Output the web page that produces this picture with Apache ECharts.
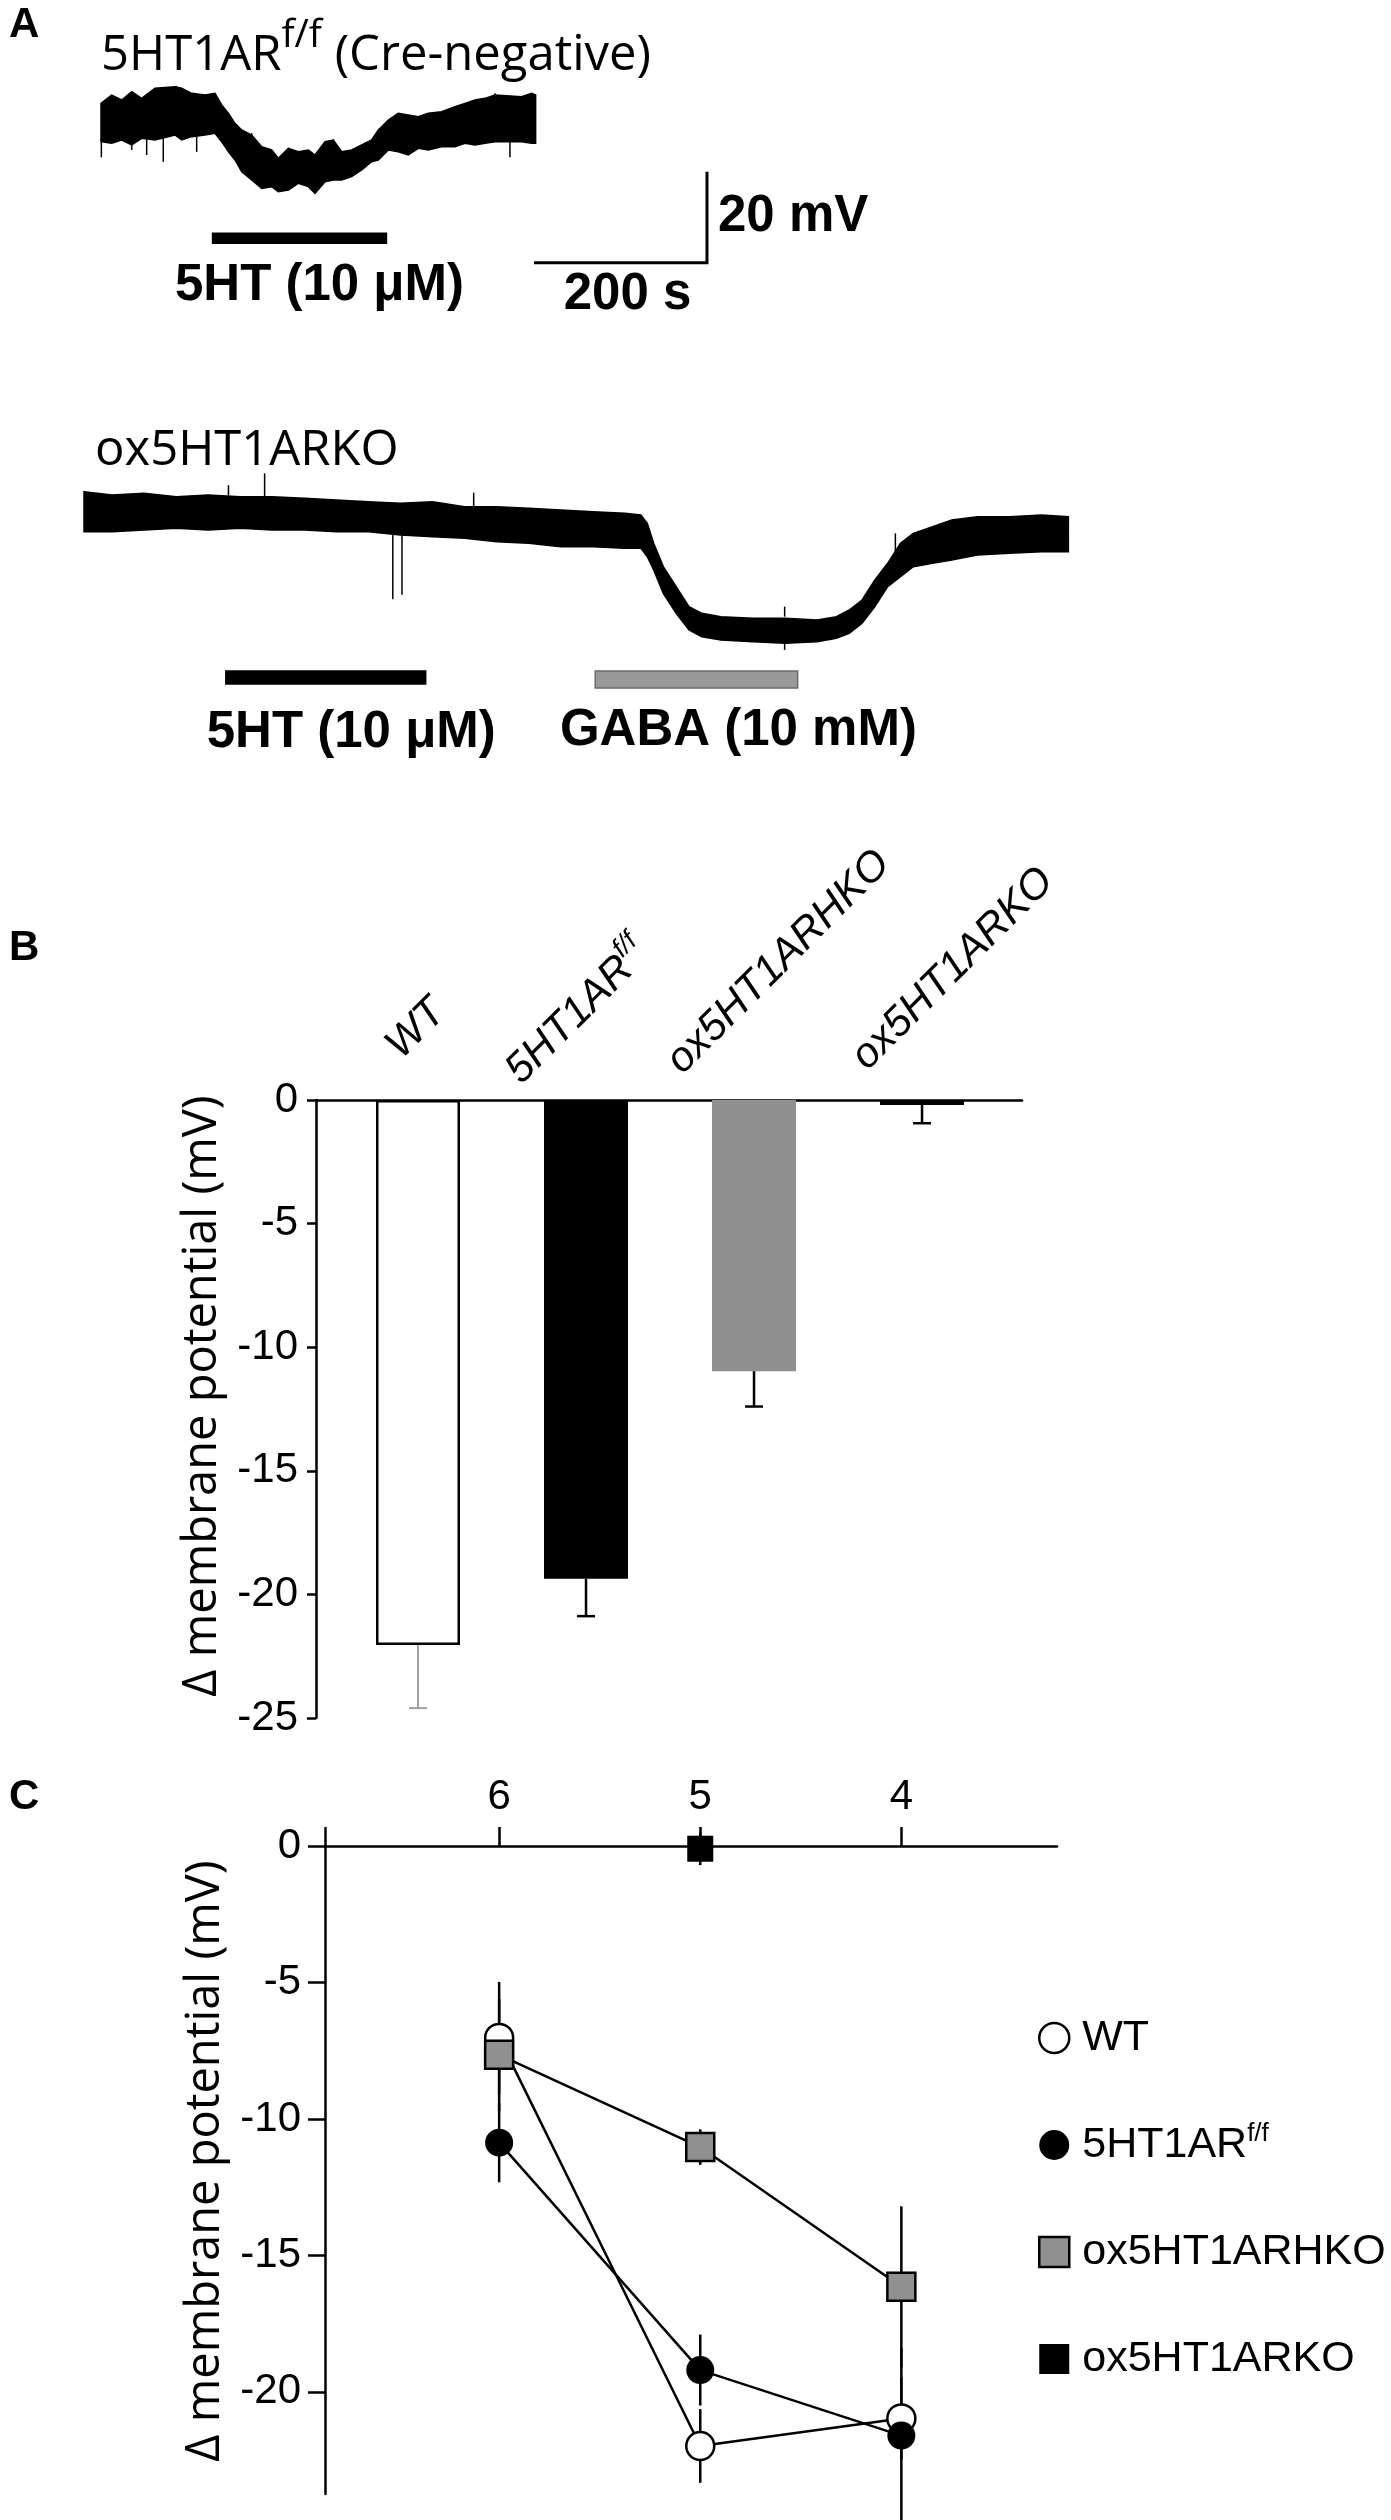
<!DOCTYPE html>
<html><head><meta charset="utf-8">
<script src="https://cdn.jsdelivr.net/npm/echarts@6/dist/echarts.min.js"></script>
<style>html,body{margin:0;padding:0;background:#fff}#c{width:1391px;height:2520px}</style>
</head><body><div id="c"></div>
<script>
// ---------- Panel A : recorded traces (upper / lower edge of the noisy band) ----------
// trace 1 : 5HT1AR f/f (Cre-negative); time in s, edges in mV (relative to start)
const trace1T  = [0, 12.3, 23.9, 35.5, 47.0, 62.4, 85.5, 93.2, 104.8, 120.2, 131.8, 139.5, 147.2, 154.9, 162.7, 174.2, 185.8, 197.3, 205.0, 216.6, 228.1, 239.7, 247.4, 259.0, 268.6, 278.2, 289.8, 301.4, 312.9, 320.6, 332.2, 343.7, 355.3, 366.8, 378.4, 393.8, 409.2, 420.8, 432.4, 443.9, 455.5, 486.3, 497.9, 502.5];
const trace1Hi = [3.66, 5.49, 4.40, 6.23, 4.76, 6.96, 7.33, 6.96, 5.86, 5.49, 5.86, 3.30, 1.47, -0.73, -2.20, -3.30, -5.86, -6.59, -8.42, -6.23, -6.96, -6.59, -7.69, -4.76, -4.40, -6.96, -6.59, -5.49, -4.40, -2.20, 0, 1.47, 1.10, 0.73, 1.47, 1.83, 2.93, 3.66, 4.40, 4.76, 5.49, 5.13, 5.86, 5.49];
const trace1Lo = [-4.76, -5.13, -4.40, -5.49, -4.03, -4.40, -3.30, -4.40, -3.66, -3.30, -2.93, -4.76, -6.96, -8.79, -11.36, -13.19, -15.02, -14.65, -15.75, -15.38, -13.92, -14.65, -16.12, -13.55, -13.19, -13.19, -12.45, -10.99, -9.16, -8.79, -6.59, -6.96, -7.69, -6.23, -6.59, -5.86, -5.86, -5.13, -5.49, -5.13, -4.76, -4.76, -5.13, -5.13];
// spikes: [time, from mV, to mV]
const trace1Spikes = [[0.4, -4, -8.2], [35.5, -4, -6.6], [52.8, -3, -7.7], [72, -3, -9.2], [110.6, -3, -7.0], [472.8, -4, -8.2], [87, 6, 7.5], [174.2, -5, -2.9], [268.6, -6, -4.25], [455.5, 5, 5.9]];
// trace 2 : ox5HT1ARKO
const trace2T  = [0, 32.5, 69.5, 106.6, 143.6, 180.7, 217.7, 254.8, 291.8, 328.9, 365.9, 403.0, 440.0, 477.1, 514.1, 551.2, 588.2, 625.3, 643.8, 651.2, 658.6, 669.7, 684.6, 699.4, 714.2, 736.4, 773.5, 810.5, 847.6, 869.8, 884.6, 899.5, 914.3, 929.1, 943.9, 958.7, 981.0, 1003.2, 1032.9, 1070.0, 1107.0, 1138];
const trace2Hi = [4.47, 3.74, 4.10, 3.37, 3.74, 3.37, 3.37, 3.00, 2.64, 2.27, 1.90, 2.27, 1.17, 1.17, 0.81, 0.44, 0.07, -0.29, -0.66, -2.49, -6.89, -12.01, -16.41, -20.81, -22.27, -23.0, -23.37, -23.37, -23.74, -23.0, -21.54, -19.34, -14.95, -11.28, -6.89, -4.69, -3.22, -1.76, -1.03, -1.03, -0.66, -1.03];
const trace2Lo = [-4.33, -4.33, -3.96, -3.59, -3.96, -3.59, -3.96, -3.96, -4.33, -4.33, -5.05, -5.42, -5.79, -6.52, -6.89, -7.62, -7.62, -7.99, -7.99, -9.82, -12.75, -17.88, -22.27, -25.93, -27.4, -28.13, -28.5, -28.86, -28.5, -27.77, -26.67, -24.47, -20.81, -16.41, -14.21, -12.01, -11.28, -10.55, -9.45, -9.08, -8.72, -8.72];
const trace2Spikes = [[208.8, 3, 8.5], [357, -5, -19.2], [367.6, -5, -18.2], [167, 3, 5.9], [450.5, 1, 4.25], [810, -28, -30.3], [810, -23, -20.8], [938, -10, -4.7]];
// drug applications (s)
const drug1Names = ['5HT (10 \u03bcM)'];
const drug1Start = [129];
const drug1End   = [330];
const drug2Names = ['5HT (10 \u03bcM)', 'GABA (10 mM)'];
const drug2Start = [164, 591];
const drug2End   = [395, 825];
// scale bar
const scaleTime = 200;   // s
const scaleVolt = 20;    // mV
const scaleTimeLabel = '200 s';
const scaleVoltLabel = '20 mV';

// ---------- Panel B : bar chart ----------
const catNames = ['WT', '5HT1AR', 'ox5HT1ARHKO', 'ox5HT1ARKO'];
const catSup   = ['', 'f/f', '', ''];
const meanB = [-22.05, -19.37, -10.97, -0.2];
const semB  = [2.55, 1.51, 1.43, 0.74];

// ---------- Panel C : concentration response (x = -log M) ----------
const concC = [6, 5, 4];
const wtC   = [-7.03, -21.98, -20.97];
const wtSem = [2.05, 1.35, 1.5];
const ffC   = [-10.87, -19.2, -21.6];
const ffSem = [1.45, 1.3, 3.2];
const hkoC  = [-7.65, -11.03, -16.15];
const hkoSem= [2.05, 0.65, 2.95];
const koConc= [5];
const koC   = [-0.1];
const koSem = [0.6];
const yTicksC = [0, -5, -10, -15, -20];
const seriesNamesC = ['WT', '5HT1AR', 'ox5HT1ARHKO', 'ox5HT1ARKO'];

// ---------- styles ----------
const FA = "'Liberation Sans', Arial, sans-serif";
const FO = "'Open Sans', sans-serif";
const LW = 2.5;
const axisLineSt = {show: true, lineStyle: {color: '#000', width: LW}};
const drugStyle1 = [{level: -26, h: 10, fill: '#000', stroke: '#000', dx: 20, dy: 47.5}];
const drugStyle2 = [{level: -36.4, h: 13, fill: '#000', stroke: '#000', dx: 25.5, dy: 55},
                    {level: -36.8, h: 17, fill: '#999', stroke: '#6a6a6a', dx: 42, dy: 51}];
const scaleAnchor = {t: 500.6, v: -31.4};
const catShift = [[-25, -48], [-73, -23], [-80, -33], [-63, -37]];

function traceSeries(gi, T, Hi, Lo, spikes) {
  return {
    type: 'custom', xAxisIndex: gi, yAxisIndex: gi, clip: false, silent: true,
    data: [[0, 0]],
    renderItem: function (params, api) {
      const pts = [];
      for (let i = 0; i < T.length; i++) pts.push(api.coord([T[i], Hi[i]]));
      for (let i = T.length - 1; i >= 0; i--) pts.push(api.coord([T[i], Lo[i]]));
      const ch = [{type: 'polygon', shape: {points: pts}, style: {fill: '#000', stroke: '#000', lineWidth: 1.5, lineJoin: 'miter'}}];
      spikes.forEach(function (s) {
        const a = api.coord([s[0], s[1]]), b = api.coord([s[0], s[2]]);
        ch.push({type: 'line', shape: {x1: a[0], y1: a[1], x2: b[0], y2: b[1]}, style: {stroke: '#000', lineWidth: 1.5}});
      });
      return {type: 'group', children: ch};
    }
  };
}
function drugSeries(gi, names, t0, t1, styles) {
  return {
    type: 'custom', xAxisIndex: gi, yAxisIndex: gi, clip: false, silent: true,
    data: t0.map(function (t, i) { return [t, t1[i]]; }),
    renderItem: function (params, api) {
      const i = params.dataIndex, s = styles[i];
      const a = api.coord([api.value(0), s.level]), b = api.coord([api.value(1), s.level]);
      return {type: 'group', children: [
        {type: 'rect', shape: {x: a[0], y: a[1] - s.h / 2, width: b[0] - a[0], height: s.h},
         style: {fill: s.fill, stroke: s.stroke, lineWidth: 1.5}},
        {type: 'text', x: (a[0] + b[0]) / 2 + s.dx, y: a[1] + s.dy,
         style: {text: names[i], fontFamily: FA, fontWeight: 'bold', fontSize: 51, fill: '#000', align: 'center', verticalAlign: 'middle'}}
      ]};
    }
  };
}

const errRowsC = [];
[[wtC, wtSem, concC], [ffC, ffSem, concC], [hkoC, hkoSem, concC], [koC, koSem, koConc]].forEach(function (g) {
  g[0].forEach(function (v, i) { errRowsC.push([g[2][i], v - g[1][i], v + g[1][i]]); });
});

const chart = echarts.init(document.getElementById('c'), null, {renderer: 'canvas', width: 1391, height: 2520});
const supRich = {sup: {fontSize: 26, fontFamily: FA, color: '#000', verticalAlign: 'top', lineHeight: 10}};

const option = {
  animation: false,
  backgroundColor: '#fff',
  grid: [
    {left: 101, top: 65.4, width: 607.2, height: 209.3},
    {left: 84, top: 457.4, width: 986.1, height: 245.7},
    {left: 316, top: 1100, width: 706, height: 618},
    {left: 325, top: 1828, width: 732, height: 666}
  ],
  xAxis: [
    {gridIndex: 0, type: 'value', min: 0, max: 702, show: false},
    {gridIndex: 1, type: 'value', min: 0, max: 1140, show: false},
    {gridIndex: 2, type: 'value', min: 0.3929, max: 4.595, position: 'top',
     axisLine: {show: true, onZero: false, lineStyle: {color: '#000', width: LW}},
     axisTick: {show: false}, axisLabel: {show: false}, splitLine: {show: false}},
    {gridIndex: 3, type: 'value', inverse: true, min: 3.226, max: 6.866, position: 'top',
     axisLine: {show: true, onZero: true, lineStyle: {color: '#000', width: LW}},
     axisTick: {show: true, length: 19, customValues: concC, lineStyle: {color: '#000', width: LW}},
     axisLabel: {customValues: concC, fontSize: 42, fontFamily: FA, color: '#000', margin: 10},
     splitLine: {show: false}}
  ],
  yAxis: [
    {gridIndex: 0, type: 'value', min: -34, max: 12, show: false},
    {gridIndex: 1, type: 'value', min: -42, max: 12, show: false},
    {gridIndex: 2, type: 'value', min: -25, max: 0, interval: 5,
     axisLine: axisLineSt, axisTick: {show: true, length: 9, lineStyle: {color: '#000', width: LW}},
     axisLabel: {fontSize: 42, fontFamily: FA, color: '#000', margin: 18, showMinLabel: true, showMaxLabel: true},
     splitLine: {show: false},
     name: '\u0394 membrane potential (mV)', nameLocation: 'middle', nameGap: 86,
     nameTextStyle: {fontFamily: FO, fontSize: 47, color: '#000', padding: [0, 0, 0, 26]}},
    {gridIndex: 3, type: 'value', min: -23.74, max: 0.659,
     axisLine: axisLineSt,
     axisTick: {show: true, length: 17, customValues: yTicksC, lineStyle: {color: '#000', width: LW}},
     axisLabel: {customValues: yTicksC, fontSize: 42, fontFamily: FA, color: '#000', margin: 24},
     splitLine: {show: false},
     name: '\u0394 membrane potential (mV)', nameLocation: 'middle', nameGap: 86,
     nameTextStyle: {fontFamily: FO, fontSize: 47, color: '#000'}}
  ],
  legend: {
    orient: 'vertical', left: 1033, top: 2009, itemWidth: 30, itemHeight: 30, itemGap: 59,
    selectedMode: false,
    formatter: function (n) { return n === '5HT1AR' ? '5HT1AR{sup|f/f}' : n; },
    textStyle: {fontSize: 43, fontFamily: FA, color: '#000', lineHeight: 48, padding: [0, 0, 0, 8], rich: supRich},
    data: [
      {name: 'WT', icon: 'circle', itemStyle: {color: '#fff', borderColor: '#000', borderWidth: LW}},
      {name: '5HT1AR', icon: 'circle', itemStyle: {color: '#000', borderColor: '#000', borderWidth: 0}},
      {name: 'ox5HT1ARHKO', icon: 'rect', itemStyle: {color: '#909090', borderColor: '#000', borderWidth: LW}},
      {name: 'ox5HT1ARKO', icon: 'rect', itemStyle: {color: '#000', borderColor: '#000', borderWidth: 0}}
    ]
  },
  graphic: [
    {type: 'text', x: 9, y: 25, style: {text: 'A', fontFamily: FA, fontWeight: 'bold', fontSize: 42, fill: '#000', verticalAlign: 'middle'}},
    {type: 'text', x: 101, y: 56, style: {text: '{m|5HT1AR}{s|f/f}{m| (Cre-negative)}', verticalAlign: 'middle', align: 'left',
      rich: {m: {fontFamily: FO, fontSize: 49, lineHeight: 80, fill: '#000'}, s: {fontFamily: FO, fontSize: 39, lineHeight: 10, verticalAlign: 'top', fill: '#000'}}}},
    {type: 'text', x: 95, y: 451.5, style: {text: 'ox5HT1ARKO', fontFamily: FO, fontSize: 49, fill: '#000', verticalAlign: 'middle'}},
    {type: 'text', x: 9, y: 948, style: {text: 'B', fontFamily: FA, fontWeight: 'bold', fontSize: 42, fill: '#000', verticalAlign: 'middle'}},
    {type: 'text', x: 9, y: 1797, style: {text: 'C', fontFamily: FA, fontWeight: 'bold', fontSize: 42, fill: '#000', verticalAlign: 'middle'}}
  ],
  series: [
    traceSeries(0, trace1T, trace1Hi, trace1Lo, trace1Spikes),
    drugSeries(0, drug1Names, drug1Start, drug1End, drugStyle1),
    {type: 'custom', xAxisIndex: 0, yAxisIndex: 0, clip: false, silent: true,
     data: [[scaleAnchor.t, scaleAnchor.v, scaleAnchor.t + scaleTime, scaleAnchor.v + scaleVolt]],
     renderItem: function (params, api) {
       const p0 = api.coord([api.value(0), api.value(1)]);
       const p1 = api.coord([api.value(2), api.value(1)]);
       const p2 = api.coord([api.value(2), api.value(3)]);
       return {type: 'group', children: [
         {type: 'polyline', shape: {points: [p0, p1, p2]}, style: {stroke: '#000', lineWidth: 3, fill: null}},
         {type: 'text', x: p1[0] + 11, y: (p1[1] + p2[1]) / 2, style: {text: scaleVoltLabel, fontFamily: FA, fontWeight: 'bold', fontSize: 51, fill: '#000', align: 'left', verticalAlign: 'middle'}},
         {type: 'text', x: (p0[0] + p1[0]) / 2 + 7, y: p0[1] + 32.5, style: {text: scaleTimeLabel, fontFamily: FA, fontWeight: 'bold', fontSize: 51, fill: '#000', align: 'center', verticalAlign: 'middle'}}
       ]};
     }},
    traceSeries(1, trace2T, trace2Hi, trace2Lo, trace2Spikes),
    drugSeries(1, drug2Names, drug2Start, drug2End, drugStyle2),
    // Panel B bars
    {type: 'bar', name: 'bars', xAxisIndex: 2, yAxisIndex: 2, barWidth: 84, silent: true,
     data: meanB.map(function (v, i) {
       const st = [{color: '#fff', borderColor: '#000', borderWidth: LW}, {color: '#000'}, {color: '#8f8f8f'}, {color: '#000'}][i];
       return {value: [i + 1, v], itemStyle: st};
     })},
    {type: 'custom', xAxisIndex: 2, yAxisIndex: 2, clip: false, silent: true, z: 3,
     data: meanB.map(function (m, i) { return [i + 1, m, m - semB[i]]; }),
     renderItem: function (params, api) {
       const x = api.value(0);
       const a = api.coord([x, api.value(1)]), b = api.coord([x, api.value(2)]);
       const col = params.dataIndex === 0 ? '#a0a0a0' : '#000';
       const w = params.dataIndex === 0 ? 2 : LW;
       return {type: 'group', children: [
         {type: 'line', shape: {x1: a[0], y1: a[1], x2: b[0], y2: b[1]}, style: {stroke: col, lineWidth: w}},
         {type: 'line', shape: {x1: b[0] - 9, y1: b[1], x2: b[0] + 9, y2: b[1]}, style: {stroke: col, lineWidth: w}}
       ]};
     }},
    {type: 'custom', xAxisIndex: 2, yAxisIndex: 2, clip: false, silent: true,
     data: catNames.map(function (n, i) { return [i + 1, 0]; }),
     renderItem: function (params, api) {
       const i = params.dataIndex;
       const c = api.coord([api.value(0), api.value(1)]);
       const txt = catSup[i] ? '{m|' + catNames[i] + '}{s|' + catSup[i] + '}' : '{m|' + catNames[i] + '}';
       return {type: 'text', x: c[0] + catShift[i][0], y: c[1] + catShift[i][1], rotation: Math.PI / 4,
         style: {text: txt, align: 'left', verticalAlign: 'middle',
           rich: {m: {fontFamily: FA, fontStyle: 'italic', fontSize: 42, lineHeight: 55, fill: '#000'},
                  s: {fontFamily: FA, fontStyle: 'italic', fontSize: 27, lineHeight: 10, verticalAlign: 'top', fill: '#000'}}}};
     }},
    // Panel C error bars
    {type: 'custom', xAxisIndex: 3, yAxisIndex: 3, clip: false, silent: true, z: 1,
     data: errRowsC,
     renderItem: function (params, api) {
       const a = api.coord([api.value(0), api.value(1)]), b = api.coord([api.value(0), api.value(2)]);
       return {type: 'line', shape: {x1: a[0], y1: a[1], x2: b[0], y2: b[1]}, style: {stroke: '#000', lineWidth: LW}};
     }},
    {type: 'line', name: seriesNamesC[0], xAxisIndex: 3, yAxisIndex: 3, z: 3,
     data: concC.map(function (c, i) { return [c, wtC[i]]; }),
     symbol: 'circle', symbolSize: 28,
     itemStyle: {color: '#fff', borderColor: '#000', borderWidth: LW}, lineStyle: {color: '#000', width: LW}},
    {type: 'line', name: seriesNamesC[1], xAxisIndex: 3, yAxisIndex: 3, z: 4,
     data: concC.map(function (c, i) { return [c, ffC[i]]; }),
     symbol: 'circle', symbolSize: 28,
     itemStyle: {color: '#000', borderColor: '#000', borderWidth: 0}, lineStyle: {color: '#000', width: LW}},
    {type: 'line', name: seriesNamesC[2], xAxisIndex: 3, yAxisIndex: 3, z: 5,
     data: concC.map(function (c, i) { return [c, hkoC[i]]; }),
     symbol: 'rect', symbolSize: 28,
     itemStyle: {color: '#909090', borderColor: '#000', borderWidth: LW}, lineStyle: {color: '#000', width: LW}},
    {type: 'line', name: seriesNamesC[3], xAxisIndex: 3, yAxisIndex: 3, z: 6,
     data: koConc.map(function (c, i) { return [c, koC[i]]; }),
     symbol: 'rect', symbolSize: 26,
     itemStyle: {color: '#000', borderColor: '#000', borderWidth: 0}, lineStyle: {color: '#000', width: LW}}
  ]
};
chart.setOption(option);
</script>
</body></html>
